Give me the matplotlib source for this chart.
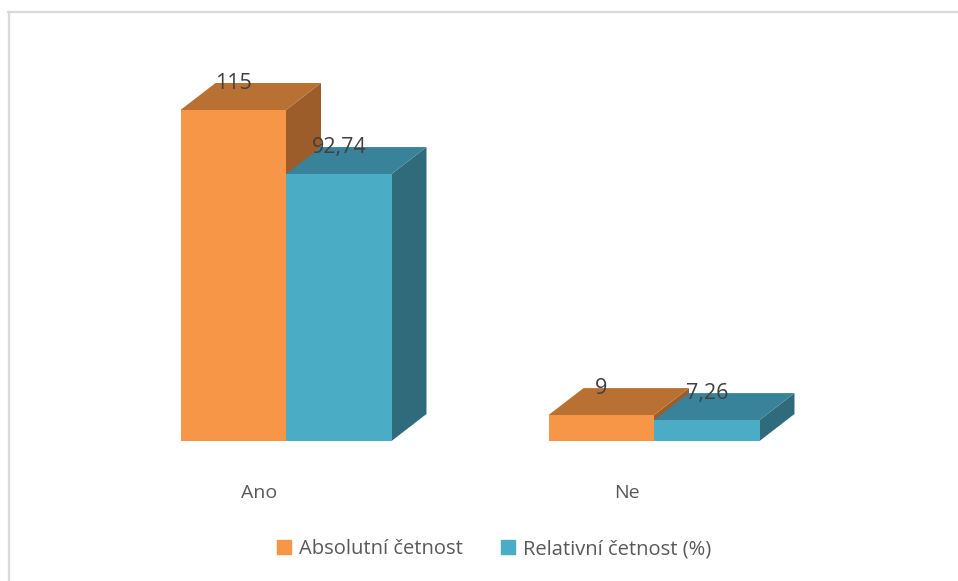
import matplotlib.pyplot as plt
from matplotlib.patches import Polygon, Patch
from matplotlib.lines import Line2D

categories = ['Ano', 'Ne']
series_names = ['Absolutní četnost', 'Relativní četnost (%)']
absolutni = [115, 9]
relativni = [92.74, 7.26]

# face colours: front, top, side
ORANGE = ('#F79646', '#B87133', '#9C5D2A')
BLUE = ('#4BACC6', '#38839A', '#2F6B7B')

plt.rcParams['font.family'] = ['Open Sans', 'DejaVu Sans']

W, H = 958, 581
PX_UNIT = 331 / 115      # pixels per value unit
PX_CAT = 368             # pixels between category groups
BAR_W = 105.5 / PX_CAT
DX = 35 / PX_CAT         # 3d depth, horizontal
DY = 27 / PX_UNIT        # 3d depth, vertical

fig = plt.figure(figsize=(W / 100, H / 100), dpi=100)
ax = fig.add_axes([0, 140 / H, 1, 401 / H])
ax.set_xlim(-286 / PX_CAT, (W - 286) / PX_CAT)
ax.set_ylim(0, 401 / PX_UNIT)
ax.axis('off')


def bar3d(x0, val, colors):
    front, top, side = colors
    x1 = x0 + BAR_W
    ax.add_patch(Polygon([(x1, 0), (x1 + DX, DY), (x1 + DX, val + DY), (x1, val)],
                         closed=True, fc=side, ec='none', clip_on=False))
    ax.add_patch(Polygon([(x0, val), (x1, val), (x1 + DX, val + DY), (x0 + DX, val + DY)],
                         closed=True, fc=top, ec='none', clip_on=False))
    ax.add_patch(Polygon([(x0, 0), (x1, 0), (x1, val), (x0, val)],
                         closed=True, fc=front, ec='none', clip_on=False))
    lbl = f'{val:g}'.replace('.', ',')
    ax.text(x0 + BAR_W / 2, val + DY, lbl, ha='center', va='center',
            fontsize=15.5, color='#404040', zorder=5)


for i, cat in enumerate(categories):
    bar3d(i - BAR_W, absolutni[i], ORANGE)
    bar3d(i, relativni[i], BLUE)
    ax.annotate(cat, (i, 0), xytext=(-27 * 0.72, -52 * 0.72), textcoords='offset points',
                ha='center', va='center', fontsize=14, color='#595959',
                annotation_clip=False)

fig.legend(handles=[Patch(color=ORANGE[0]), Patch(color=BLUE[0])], labels=series_names,
           loc='center', bbox_to_anchor=(494 / W, 1 - 549 / H), ncol=2, frameon=False,
           handlelength=0.7, handleheight=0.7, handletextpad=0.4, columnspacing=1.9,
           fontsize=14.5, labelcolor='#595959')

# chart area border (top and left edges visible)
fig.add_artist(Line2D([8 / W, 1], [1 - 12 / H, 1 - 12 / H], color='#D9D9D9', lw=1.6))
fig.add_artist(Line2D([9 / W, 9 / W], [0, 1 - 12 / H], color='#D9D9D9', lw=1.6))

fig.savefig('out.png', dpi=100)
